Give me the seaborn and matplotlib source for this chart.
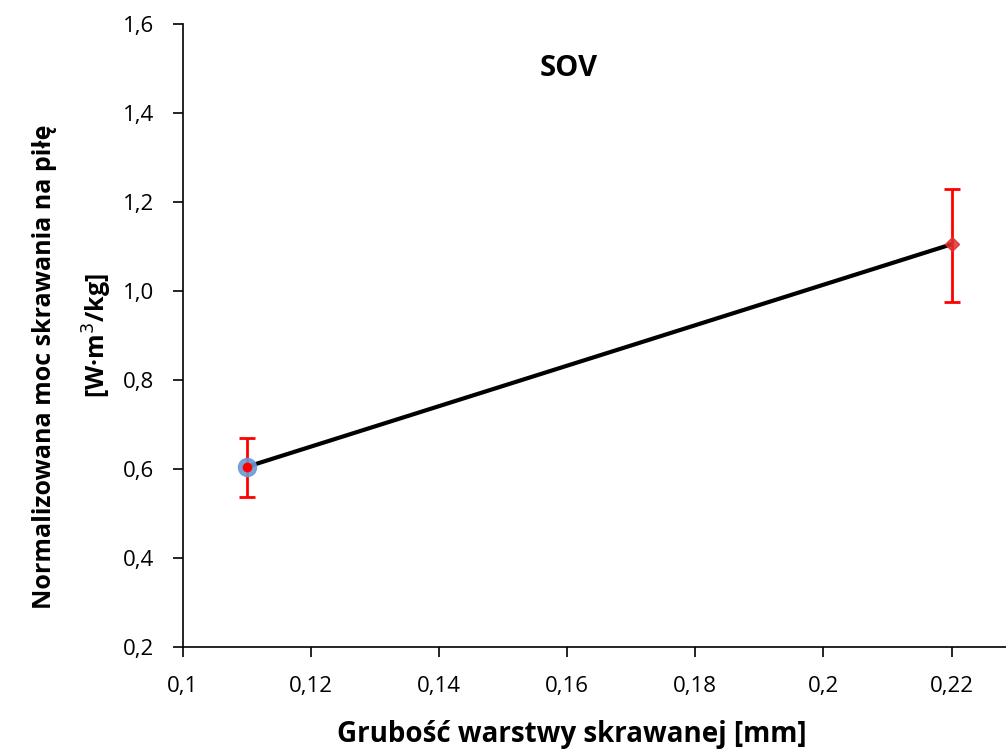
import matplotlib
matplotlib.use('Agg')
import matplotlib.pyplot as plt
import seaborn as sns
import pandas as pd
from matplotlib.ticker import FuncFormatter

# Data
grubosc = [0.11, 0.22]
moc = [0.605, 1.105]
err_low = [0.068, 0.130]
err_high = [0.065, 0.125]

sns.set_style('ticks')
plt.rcParams['font.family'] = ['Open Sans', 'DejaVu Sans']
plt.rcParams['text.color'] = 'black'
plt.rcParams['axes.labelcolor'] = 'black'

df = pd.DataFrame({'x': grubosc, 'y': moc})

fig = plt.figure(figsize=(10.06, 7.51), dpi=100)
ax = fig.add_axes([183 / 1006, 1 - 647 / 751, 1 - 183 / 1006, (647 - 24) / 751])

sns.lineplot(data=df, x='x', y='y', color='black', linewidth=3, ax=ax, zorder=2)
ax.errorbar(grubosc, moc, yerr=[err_low, err_high], fmt='none', ecolor='red',
            elinewidth=2, capsize=6, capthick=2, zorder=3)
# markers
ax.plot(grubosc[0], moc[0], 'o', color='#6a9ad6', markersize=13, alpha=0.9, zorder=4)
ax.plot(grubosc[0], moc[0], 'o', color='red', markersize=6, zorder=5)
ax.plot(grubosc[1], moc[1], 'D', color='#e03030', markersize=7, alpha=0.85, zorder=5)

ax.set_xlim(0.1, 0.2285)
ax.set_ylim(0.2, 1.6)
ax.set_xticks([0.1, 0.12, 0.14, 0.16, 0.18, 0.2, 0.22])
ax.set_yticks([0.2, 0.4, 0.6, 0.8, 1.0, 1.2, 1.4, 1.6])

def comma(v, pos):
    s = ('%.2f' % v).rstrip('0')
    if abs(v - round(v, 1)) < 1e-9:
        s = '%.1f' % v
    return s.replace('.', ',')

ax.xaxis.set_major_formatter(FuncFormatter(comma))
ax.yaxis.set_major_formatter(FuncFormatter(comma))
ax.tick_params(axis='both', labelsize=16, direction='out', length=7, width=1.2,
               colors='black', pad=14)
for s in ['top', 'right']:
    ax.spines[s].set_visible(False)
for s in ['left', 'bottom']:
    ax.spines[s].set_linewidth(1.2)
    ax.spines[s].set_color('black')

ax.set_xlabel('')
ax.set_ylabel('')
fig.text(572 / 1006, 1 - 742 / 751, 'Grubość warstwy skrawanej [mm]', fontsize=20,
         fontweight='bold', ha='center', va='baseline')
fig.text(45 / 1006, 1 - 367 / 751, 'Normalizowana moc skrawania na piłę', fontsize=18,
         fontweight='bold', rotation=90, ha='center', va='center')
fig.text(97 / 1006, 1 - 336 / 751, '[W·m$^3$/kg]', fontsize=18,
         fontweight='bold', rotation=90, ha='center', va='center')
ax.text(0.1602, 1.501, 'SOV', fontsize=21, fontweight='bold', ha='center', va='center')

fig.savefig('out.png', dpi=100)
